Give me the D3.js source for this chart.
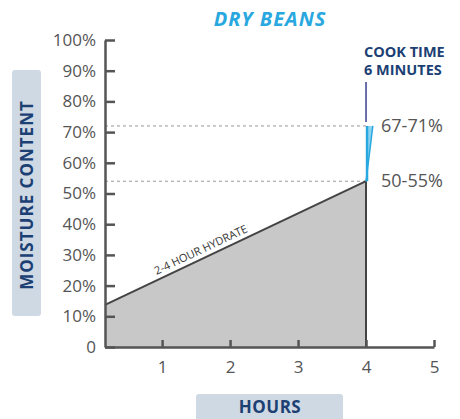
<!DOCTYPE html>
<html>
<head>
<meta charset="utf-8">
<script src="https://cdn.jsdelivr.net/npm/d3@7"></script>
<style>
    body { margin: 0; background: #fff; }
    svg { display: block; font-family: "Open Sans", sans-serif; }
</style>
</head>
<body>
<script>
const xTicks = [1, 2, 3, 4, 5];
const yTicks = [0, 10, 20, 30, 40, 50, 60, 70, 80, 90, 100];
const hydrate = [{ h: 0.16, m: 13.7 }, { h: 4, m: 54 }];
const cook = [{ h: 4, m: 54 }, { h: 4, m: 72 }, { h: 4.1, m: 72 }];
const levels = [{ m: 72, label: "67-71%" }, { m: 54, label: "50-55%" }];

const width = 460;
const height = 419;

const svg = d3.select("body").append("svg")
    .attr("width", width)
    .attr("height", height);

const xScale = d3.scaleLinear().domain([0.16, 5]).range([105, 434]);
const yScale = d3.scaleLinear().domain([0, 100]).range([347, 40]);

// axis label boxes
svg.append("rect")
    .attr("x", 12).attr("y", 70).attr("width", 29).attr("height", 246)
    .attr("rx", 3).attr("fill", "#cfd9e3");
svg.append("text")
    .attr("transform", `translate(33, 195) rotate(-90)`)
    .attr("text-anchor", "middle")
    .attr("fill", "#1c3f74")
    .style("font-weight", "bold")
    .style("font-size", "17px")
    .style("letter-spacing", "1px")
    .text("MOISTURE CONTENT");

svg.append("rect")
    .attr("x", 196).attr("y", 394).attr("width", 147).attr("height", 30)
    .attr("rx", 3).attr("fill", "#cfd9e3");
svg.append("text")
    .attr("x", 270).attr("y", 413)
    .attr("text-anchor", "middle")
    .attr("fill", "#1c3f74")
    .style("font-weight", "bold")
    .style("font-size", "17px")
    .style("letter-spacing", "0.5px")
    .text("HOURS");

// title
svg.append("text")
    .attr("x", 270).attr("y", 26)
    .attr("text-anchor", "middle")
    .attr("fill", "#29a8e0")
    .style("font-weight", "bold")
    .style("font-style", "italic")
    .style("font-size", "20px")
    .style("letter-spacing", "1px")
    .text("DRY BEANS");

// dashed level lines
svg.selectAll(".level")
    .data(levels)
    .enter()
    .append("line")
    .attr("x1", xScale(0.16)).attr("x2", xScale(4))
    .attr("y1", d => yScale(d.m)).attr("y2", d => yScale(d.m))
    .attr("stroke", "#999")
    .attr("stroke-width", 1)
    .attr("stroke-dasharray", "3,3");

svg.selectAll(".levelLabel")
    .data(levels)
    .enter()
    .append("text")
    .attr("x", 381)
    .attr("y", d => yScale(d.m) + 6)
    .attr("fill", "#555")
    .style("font-size", "18px")
    .text(d => d.label);

// hydrate area
const area = d3.area()
    .x(d => xScale(d.h))
    .y0(yScale(0))
    .y1(d => yScale(d.m));

svg.append("path")
    .datum(hydrate)
    .attr("d", area)
    .attr("fill", "#c8c8c8");

svg.append("path")
    .datum(hydrate)
    .attr("d", d3.line().x(d => xScale(d.h)).y(d => yScale(d.m)))
    .attr("fill", "none")
    .attr("stroke", "#444")
    .attr("stroke-width", 2);

svg.append("line")
    .attr("x1", xScale(4)).attr("x2", xScale(4))
    .attr("y1", yScale(54)).attr("y2", yScale(0))
    .attr("stroke", "#444")
    .attr("stroke-width", 2);

// cook time wedge
svg.append("path")
    .datum(cook)
    .attr("d", d3.line().x(d => xScale(d.h)).y(d => yScale(d.m)).curve(d3.curveLinearClosed))
    .attr("fill", "#8fd3f2");
svg.append("path")
    .datum(cook.slice(0, 2))
    .attr("d", d3.line().x(d => xScale(d.h) + 1).y(d => yScale(d.m)))
    .attr("stroke", "#29a8e0")
    .attr("stroke-width", 2.5);
svg.append("path")
    .datum([cook[0], cook[2]])
    .attr("d", d3.line().x(d => xScale(d.h)).y(d => yScale(d.m)))
    .attr("stroke", "#29a8e0")
    .attr("stroke-width", 1.5);

// cook time callout
svg.append("line")
    .attr("x1", xScale(4)).attr("x2", xScale(4))
    .attr("y1", 82).attr("y2", yScale(72) - 4)
    .attr("stroke", "#3a3f8f")
    .attr("stroke-width", 1.5);
svg.append("text")
    .attr("x", 364).attr("y", 57)
    .attr("fill", "#1c3f74")
    .style("font-weight", "bold")
    .style("font-size", "14.5px")
    .text("COOK TIME");
svg.append("text")
    .attr("x", 364).attr("y", 75)
    .attr("fill", "#1c3f74")
    .style("font-weight", "bold")
    .style("font-size", "14.5px")
    .text("6 MINUTES");

// diagonal label, sitting just above the hydrate line
const p0 = [xScale(hydrate[0].h), yScale(hydrate[0].m)];
const p1 = [xScale(hydrate[1].h), yScale(hydrate[1].m)];
const angle = Math.atan2(p1[1] - p0[1], p1[0] - p0[0]) * 180 / Math.PI;
const startH = 0.95;
const startY = p0[1] + (xScale(startH) - p0[0]) * (p1[1] - p0[1]) / (p1[0] - p0[0]);
svg.append("text")
    .attr("transform", `translate(${xScale(startH)}, ${startY}) rotate(${angle})`)
    .attr("y", -5)
    .attr("fill", "#333")
    .style("font-size", "11px")
    .text("2-4 HOUR HYDRATE");

// axes
const yAxis = d3.axisRight(yScale)
    .tickValues(yTicks)
    .tickSize(10)
    .tickSizeOuter(0)
    .tickFormat(d => d === 0 ? "0" : d + "%");

const yG = svg.append("g")
    .attr("transform", `translate(${xScale(0.16)}, 0)`)
    .call(yAxis);
yG.select(".domain").attr("stroke", "#555").attr("stroke-width", 2.5);
yG.selectAll(".tick line").attr("stroke", "#555").attr("stroke-width", 2.5);
yG.selectAll(".tick text")
    .attr("x", -9)
    .attr("text-anchor", "end")
    .attr("fill", "#555")
    .style("font-size", "17px")
    .style("font-family", "'Open Sans', sans-serif");

const xAxis = d3.axisTop(xScale)
    .tickValues(xTicks)
    .tickSize(7)
    .tickSizeOuter(0)
    .tickFormat(d3.format("d"));

const xG = svg.append("g")
    .attr("transform", `translate(0, ${yScale(0)})`)
    .call(xAxis);
xG.select(".domain").attr("stroke", "#555").attr("stroke-width", 2.5);
xG.selectAll(".tick line").attr("stroke", "#555").attr("stroke-width", 2.5);
xG.selectAll(".tick text")
    .attr("y", 26)
    .attr("fill", "#555")
    .style("font-size", "17px")
    .style("font-family", "'Open Sans', sans-serif");
</script>
</body>
</html>
